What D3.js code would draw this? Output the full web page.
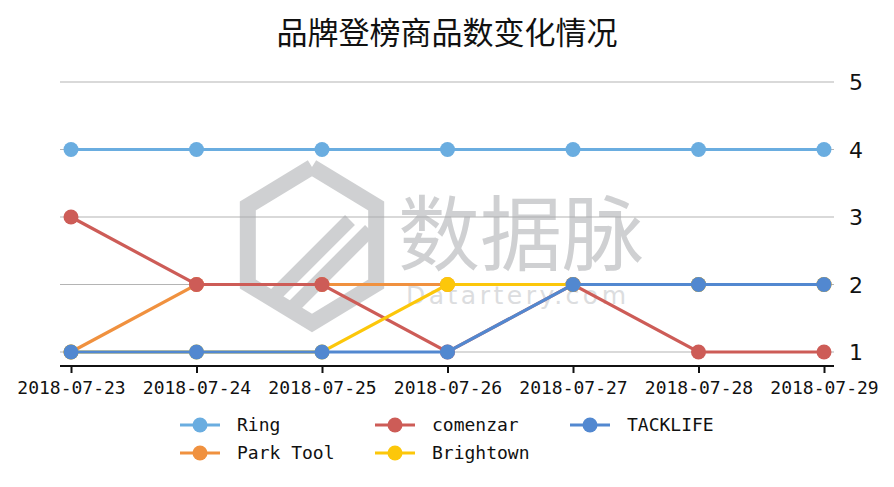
<!DOCTYPE html>
<html><head><meta charset="utf-8">
<script src="https://cdn.jsdelivr.net/npm/d3@7"></script>
<style>body{margin:0;background:#fff}svg{display:block}</style>
</head><body>
<svg id="c" width="894" height="487"></svg>
<script>
const title = "品牌登榜商品数变化情况";
const dates = ["2018-07-23","2018-07-24","2018-07-25","2018-07-26","2018-07-27","2018-07-28","2018-07-29"];
const yTicks = [1,2,3,4,5];
const seriesNames = ["Ring","Park Tool","comenzar","Brightown","TACKLIFE"];
const ring      = [4,4,4,4,4,4,4];
const parkTool  = [1,2,2,2,2,2,2];
const comenzar  = [3,2,2,1,2,1,1];
const brightown = [1,1,1,2,2,2,2];
const tacklife  = [1,1,1,1,2,2,2];
const colors = ["#6aade0","#f0913f","#cd5c57","#fcc70a","#5288d0"];
const seriesValues = [ring, parkTool, comenzar, brightown, tacklife];

const svg = d3.select("#c");
const x = d3.scalePoint().domain(dates).range([71, 824]);
const y = d3.scaleLinear().domain([1,5]).range([352, 82]);
const mono = "'DejaVu Sans Mono', 'Liberation Mono', monospace";

svg.append("text").attr("x",447).attr("y",44).attr("text-anchor","middle")
  .attr("font-family","'Noto Sans CJK SC', sans-serif").attr("font-size",31).attr("fill","#111").text(title);

// grid
const g = svg.append("g");
g.selectAll("line.grid").data(yTicks).join("line")
  .attr("x1",60).attr("x2",834).attr("y1",d=>y(d)).attr("y2",d=>y(d))
  .attr("stroke","#b4b4b4").attr("stroke-width",1.2);

// right axis labels
g.selectAll("text.yl").data(yTicks).join("text")
  .attr("x",849).attr("y",d=>y(d)+8).attr("font-family","'DejaVu Sans', sans-serif")
  .attr("font-size",22).attr("fill","#111").text(d=>d);

// watermark
const wm = svg.append("g").attr("opacity",0.55);
const hx=312, hy=245, hr=78;
const hexPts = d3.range(6).map(i=>{const a=Math.PI/3*i - Math.PI/2; return [hx+hr*Math.cos(a)*0.95, hy+hr*Math.sin(a)];});
wm.append("path").attr("d", d3.line()(hexPts.concat([hexPts[0]])))
  .attr("fill","none").attr("stroke","#a9abae").attr("stroke-width",16);
wm.append("path").attr("d","M270,300 L350,220 M290,310 L370,230")
  .attr("stroke","#a9abae").attr("stroke-width",14).attr("fill","none");
wm.append("text").attr("x",398).attr("y",264).attr("font-family","'Noto Sans CJK SC', sans-serif")
  .attr("font-size",82).attr("fill","#a9abae").text("数据脉");
wm.append("text").attr("x",406).attr("y",304).attr("font-family","'DejaVu Sans', sans-serif")
  .attr("font-size",25).attr("letter-spacing",3.5).attr("fill","#c0c2c5").text("Datartery.com");

// x axis
const xa = svg.append("g").attr("transform","translate(0,366)")
  .call(d3.axisBottom(x).tickSizeOuter(0).tickSize(7).tickPadding(8));
xa.select(".domain").attr("d","M60,0H834").attr("stroke","#111").attr("stroke-width",2);
xa.selectAll(".tick line").attr("stroke","#111").attr("stroke-width",2);
xa.selectAll(".tick text").attr("font-family",mono).attr("font-size",18).attr("fill","#111");

// lines
const line = d3.line().x((d,i)=>x(dates[i])).y(d=>y(d));
seriesValues.forEach((vals, k)=>{
  const sg = svg.append("g");
  sg.append("path").datum(vals).attr("d",line).attr("fill","none")
    .attr("stroke",colors[k]).attr("stroke-width",3.2);
  sg.selectAll("circle").data(vals).join("circle")
    .attr("cx",(d,i)=>x(dates[i])).attr("cy",d=>y(d)).attr("r",7.5).attr("fill",colors[k]);
});

// legend
const legPos = [[0,0],[0,1],[1,0],[1,1],[2,0]];
const lg = svg.append("g");
seriesNames.forEach((n,k)=>{
  const cx = 180 + legPos[k][0]*195, cy = 425 + legPos[k][1]*28;
  lg.append("line").attr("x1",cx).attr("x2",cx+40).attr("y1",cy).attr("y2",cy)
    .attr("stroke",colors[k]).attr("stroke-width",3);
  lg.append("circle").attr("cx",cx+20).attr("cy",cy).attr("r",7.5).attr("fill",colors[k]);
  lg.append("text").attr("x",cx+57).attr("y",cy+6).attr("font-family",mono)
    .attr("font-size",18).attr("fill","#111").text(n);
});
</script>
</body></html>
